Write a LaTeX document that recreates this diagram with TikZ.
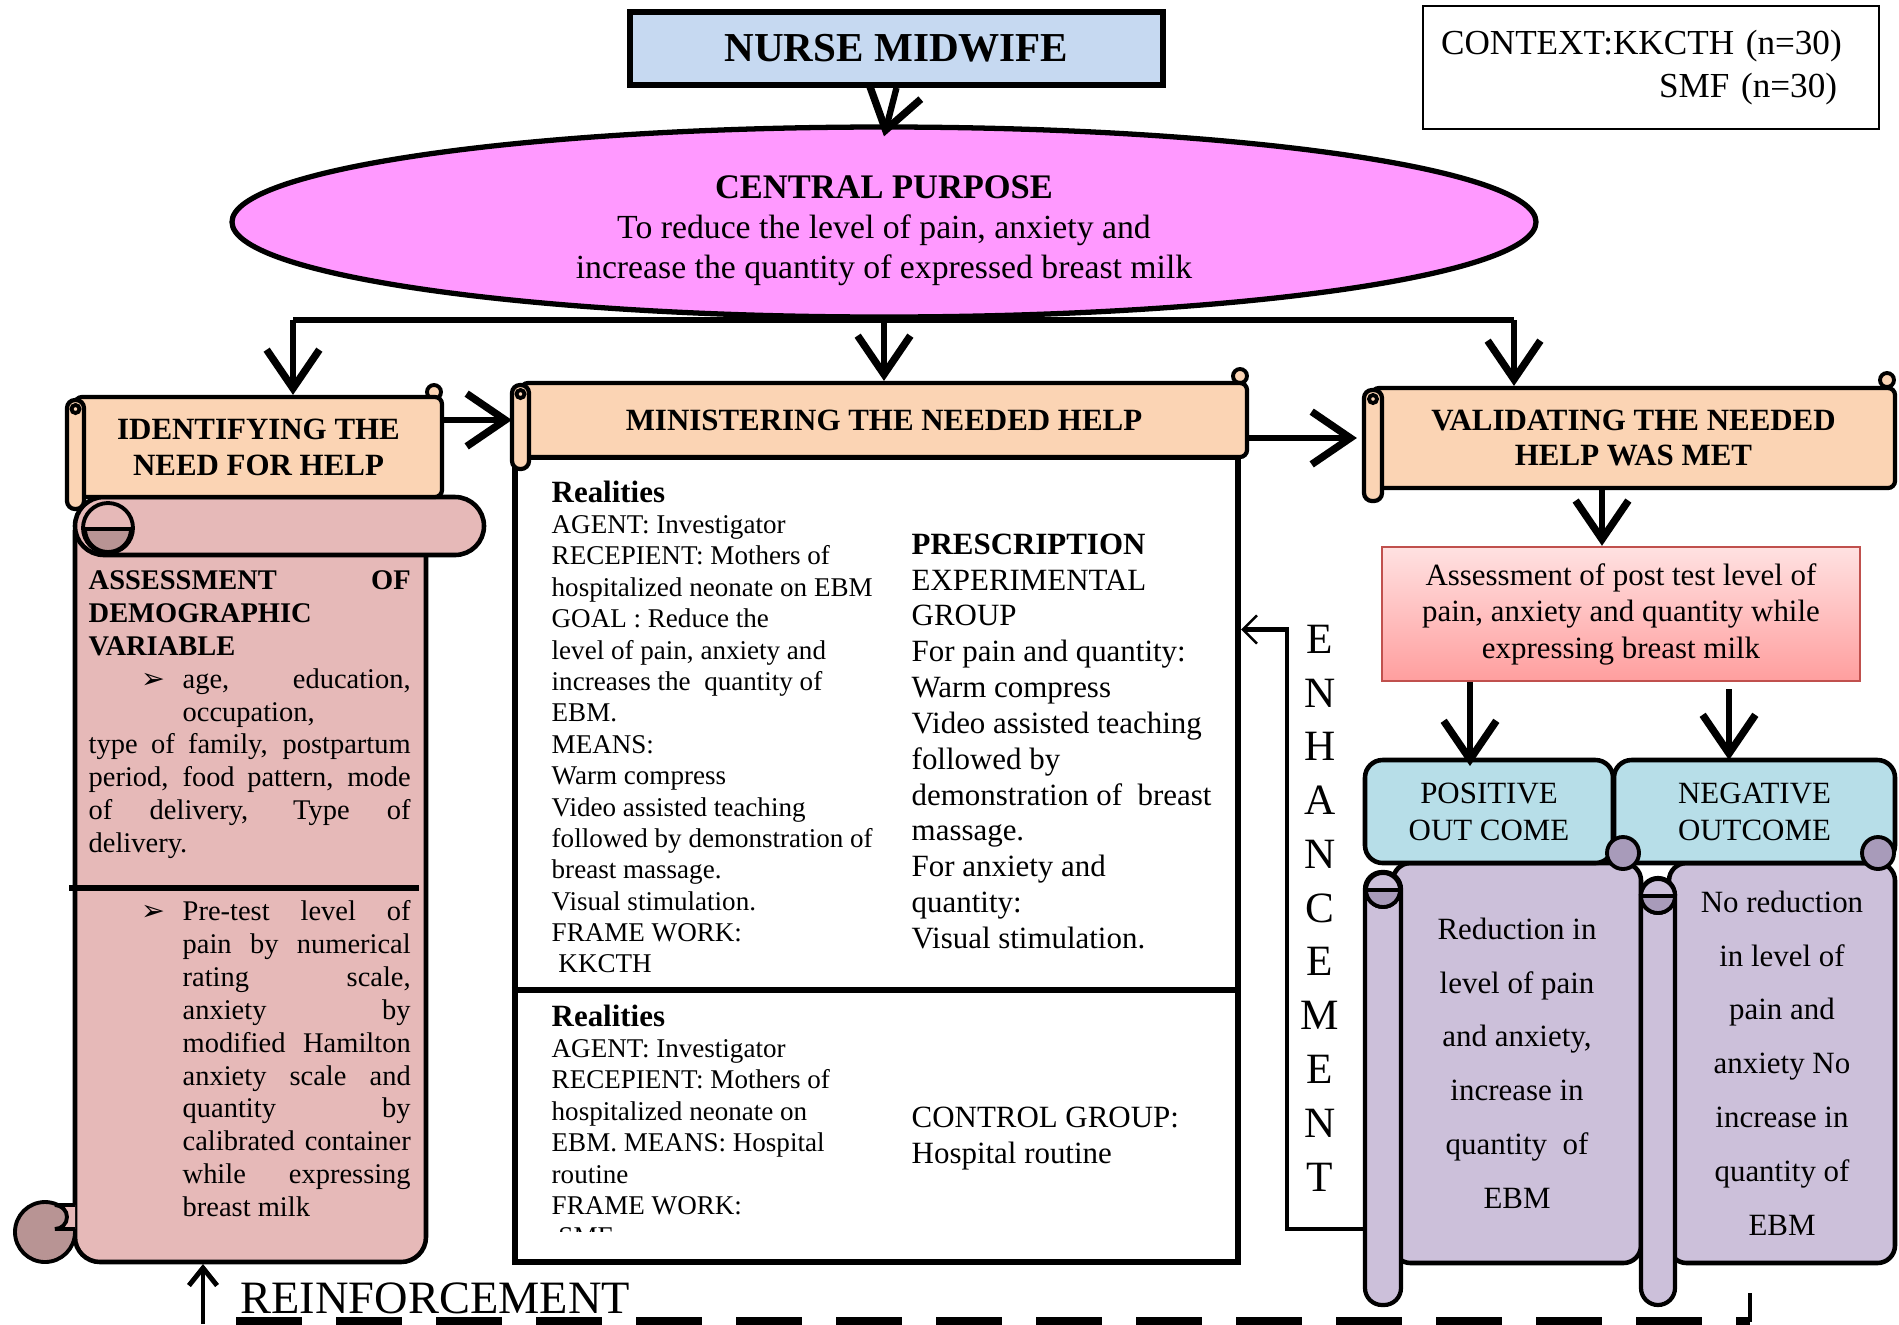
\documentclass[tikz,border=0pt]{standalone}
\usepackage{fontspec}
\setmainfont{Liberation Serif}
\newfontfamily\arrowfont{DejaVu Sans}
\usetikzlibrary{arrows.meta,positioning,shapes.geometric}
\setlength{\parindent}{0pt}

\definecolor{nurseblue}{HTML}{C6D9F1}
\definecolor{purposepink}{HTML}{FF99FF}
\definecolor{headpeach}{HTML}{FBD4B4}
\definecolor{needpink}{HTML}{E6B9B8}
\definecolor{needdark}{HTML}{B89494}
\definecolor{postred}{HTML}{C0504D}
\definecolor{posttop}{HTML}{FFE1E1}
\definecolor{postbottom}{HTML}{FF9E9E}
\definecolor{outblue}{HTML}{B7DEE8}
\definecolor{outpurple}{HTML}{CCC0DA}
\definecolor{outdark}{HTML}{A89BBA}

\begin{document}
\begin{tikzpicture}[
    head/.style={draw, line width=1.2pt, fill=headpeach, rounded corners=2pt, align=center, inner sep=0pt, font=\fontsize{8.8}{10.2}\selectfont\bfseries},
    roll/.style={draw, line width=1.2pt, rounded corners=0.08cm},
    curl/.style={draw, line width=1.1pt},
    arrow/.style={-{Straight Barb[length=11pt,width=15pt,line width=2.1pt]}, line width=1.8pt},
    needtext/.style={anchor=north west, inner sep=0pt, text width=3.22cm, align=justify, font=\fontsize{8.1}{9.35}\selectfont},
    helptext/.style={anchor=north west, inner sep=0pt, align=left, font=\fontsize{7.7}{8.93}\selectfont},
    presctext/.style={anchor=north west, inner sep=0pt, align=left, font=\fontsize{8.8}{10.2}\selectfont},
    outbox/.style={draw, line width=1.3pt, fill=outblue, rounded corners=5pt, align=center, inner sep=0pt, minimum height=1.03cm, font=\fontsize{8.8}{10.5}\selectfont},
    outbody/.style={draw, line width=1.3pt, fill=outpurple, rounded corners=5pt, align=center, inner sep=0pt, minimum height=4.0cm, font=\fontsize{8.8}{15.3}\selectfont}
]
\useasboundingbox (0,0) rectangle (18.99,-13.24);

% top
\node[draw, line width=1.6pt, fill=nurseblue, minimum width=5.33cm, minimum height=0.73cm, font=\fontsize{11.7}{13}\selectfont\bfseries] (nurse) at (8.965,-0.485) {NURSE MIDWIFE};
\node[draw, line width=0.6pt, anchor=north west, minimum width=4.56cm, minimum height=1.23cm, text width=4.2cm, inner xsep=0.18cm, align=left, font=\fontsize{10}{12}\selectfont] (context) at (14.22,-0.05) {CONTEXT:KKCTH (n=30)\\\hspace*{2.18cm}SMF (n=30)};
\node[ellipse, draw, line width=1.5pt, fill=purposepink, minimum width=13.04cm, minimum height=1.9cm, inner sep=0pt, align=center, font=\fontsize{9.6}{11.4}\selectfont] (purpose) at (8.84,-2.22) {\rule{0pt}{11.5pt}{\fontsize{9.8}{11.4}\selectfont\bfseries CENTRAL PURPOSE}\\To reduce the level of pain, anxiety and\\increase the quantity of expressed breast milk};
\draw[arrow] (nurse.south) -- ([yshift=-0.12cm]purpose.north);

% need for help scroll
\draw[line width=1.3pt, fill=needpink, rounded corners=0.25cm] (0.75,-5.3) -- (0.75,-12.62) -- (4.26,-12.62) -- (4.26,-5.3);
\draw[line width=1.3pt, fill=needpink, rounded corners=0.29cm] (0.75,-4.97) rectangle (4.84,-5.55);
\draw[curl, fill=needpink] (1.08,-5.28) circle (0.25);
\draw[curl, fill=needdark] (1.31,-5.29) arc (0:-180:0.23) -- cycle;
\draw[curl, fill=needdark] (0.45,-12.32) circle (0.30);
\draw[curl, fill=needpink] (0.75,-12.05) -- (0.55,-12.05) arc (90:-90:0.12) -- (0.75,-12.29);
\draw[line width=1.6pt] (0.69,-8.88) -- (4.19,-8.88);
\node[needtext] (demog) at (0.88,-5.70) {\textbf{ASSESSMENT OF\linebreak DEMOGRAPHIC\newline VARIABLE}\par
{\leftskip=0.94cm \noindent\llap{{\arrowfont ➢}\hspace{0.17cm}}age, education,\linebreak occupation,\par}
\noindent type of family, postpartum\linebreak period, food pattern, mode\linebreak of delivery, Type of\linebreak delivery.};
\node[needtext] (pretest) at (0.88,-9.00) {\leftskip=0.94cm \noindent\llap{{\arrowfont ➢}\hspace{0.17cm}}Pre-test level of\linebreak pain by numerical\linebreak rating scale,\linebreak anxiety by\linebreak modified Hamilton\linebreak anxiety scale and\linebreak quantity by\linebreak calibrated container\linebreak while expressing\linebreak breast milk\par};

% ministering box
\node[draw, line width=1.8pt, minimum width=7.23cm, minimum height=8.05cm, inner sep=0pt] (helpbox) at (8.765,-8.595) {};
\coordinate (split) at (0,-9.90);
\draw[line width=1.8pt] (helpbox.west |- split) -- (helpbox.east |- split);
\node[helptext] (real1) at (5.51,-4.80) {{\fontsize{8.8}{8.93}\selectfont\bfseries Realities}\\AGENT: Investigator\\RECEPIENT: Mothers of\\hospitalized neonate on EBM\\GOAL : Reduce the\\level of pain, anxiety and\\increases the\ \ quantity of\\EBM.\\MEANS:\\Warm compress\\Video assisted teaching\\followed by demonstration of\\breast massage.\\Visual stimulation.\\FRAME WORK:\\\ KKCTH};
\node[presctext] (presc) at (9.11,-5.33) {\textbf{PRESCRIPTION}\\EXPERIMENTAL\\GROUP\\For pain and quantity:\\Warm compress\\Video assisted teaching\\followed by\\demonstration of\ \ breast\\massage.\\For anxiety and\\quantity:\\Visual stimulation.};
\begin{scope}
\clip (5.2,-9.95) rectangle (12.3,-12.31);
\node[helptext] (real2) at (5.51,-10.04) {{\fontsize{8.8}{8.93}\selectfont\bfseries Realities}\\AGENT: Investigator\\RECEPIENT: Mothers of\\hospitalized neonate on\\EBM. MEANS: Hospital\\routine\\FRAME WORK:\\\ SMF};
\end{scope}
\node[presctext] (control) at (9.11,-11.06) {CONTROL GROUP:\\Hospital routine};

% headers
\draw[curl, fill=headpeach] (4.34,-3.92) circle (0.07);
\draw[curl, fill=headpeach] (12.40,-3.76) circle (0.07);
\draw[curl, fill=headpeach] (18.87,-3.80) circle (0.07);
\node[head, minimum width=3.67cm, minimum height=1.0cm] (ident) at (2.585,-4.47) {IDENTIFYING THE\\NEED FOR HELP};
\node[head, minimum width=7.26cm, minimum height=0.74cm] (minist) at (8.84,-4.20) {MINISTERING THE NEEDED HELP};
\node[head, minimum width=5.23cm, minimum height=1.0cm] (valid) at (16.335,-4.38) {VALIDATING THE NEEDED\\HELP WAS MET};
\draw[roll, fill=headpeach] (0.67,-4.00) rectangle (0.84,-5.09);
\draw[roll, fill=headpeach] (5.12,-3.85) rectangle (5.29,-4.69);
\draw[roll, fill=headpeach] (13.64,-3.90) rectangle (13.82,-5.01);
\draw[curl] (0.755,-4.09) circle (0.04);
\draw[curl] (5.205,-3.94) circle (0.04);
\draw[curl] (13.73,-3.99) circle (0.04);

% branching
\coordinate (barL) at (2.93,-3.20);
\coordinate (barR) at (15.14,-3.20);
\draw[line width=1.8pt] (barL) -- (barR);
\draw[arrow] (barL) -- (barL |- ident.north);
\draw[arrow] (purpose.south |- barL) -- (minist.north);
\draw[arrow] (barR) -- (barR |- valid.north);
\draw[arrow] (ident.east |- minist.west) -- ([xshift=-0.07cm]minist.west);
\draw[arrow] (minist.east |- valid.west) -- ([xshift=-0.13cm]valid.west);

% validating side
\node[draw=postred, line width=0.7pt, top color=posttop, bottom color=postbottom, minimum width=4.78cm, minimum height=1.34cm, align=center, font=\fontsize{8.8}{10.4}\selectfont] (assess) at (16.21,-6.14) {Assessment of post test level of\\pain, anxiety and quantity while\\expressing breast milk};
\draw[arrow] ([xshift=-0.19cm]assess.north |- valid.south) -- ([xshift=-0.19cm]assess.north);
\node[outbody, minimum width=2.48cm] (posbody) at (15.17,-10.63) {Reduction in\\level of pain\\and anxiety,\\increase in\\quantity\ \ of\\EBM};
\node[outbody, minimum width=2.26cm] (negbody) at (17.82,-10.63) {No reduction\\in level of\\pain and\\anxiety No\\increase in\\quantity of\\EBM};
\node[outbox, minimum width=2.48cm] (pos) at (14.89,-8.115) {POSITIVE\\OUT COME};
\node[outbox, minimum width=2.81cm] (neg) at (17.545,-8.115) {NEGATIVE\\OUTCOME};
\coordinate (posin) at (14.70,-7.66);
\coordinate (negin) at (17.29,-7.60);
\draw[arrow] (assess.south -| posin) -- (posin);
\draw[arrow] ([yshift=-0.07cm]assess.south -| negin) -- (negin);
\draw[roll, fill=outpurple, rounded corners=0.17cm] (13.65,-8.72) rectangle (14.01,-13.05);
\draw[roll, fill=outpurple, rounded corners=0.17cm] (16.41,-8.78) rectangle (16.75,-13.05);
\draw[curl, fill=outpurple] (13.83,-8.90) circle (0.17);
\draw[curl, fill=outdark] (14.00,-8.90) arc (0:-180:0.17) -- cycle;
\draw[curl, fill=outpurple] (16.58,-8.96) circle (0.17);
\draw[curl, fill=outdark] (16.75,-8.96) arc (0:-180:0.17) -- cycle;
\draw[curl, fill=outdark] (16.23,-8.53) circle (0.16);
\draw[curl, fill=outdark] (18.78,-8.53) circle (0.16);

% enhancement
\coordinate (enh) at (13.65,-12.29);
\draw[line width=1.4pt, -{Straight Barb[length=4pt,width=8pt,line width=0.7pt]}] (enh) -- (12.87,-12.29) |- ([yshift=2.3cm]helpbox.east);
\node[align=center, inner sep=0pt, font=\fontsize{12.3}{15.3}\selectfont] (enhtext) at (13.20,-9.08) {E\\N\\H\\A\\N\\C\\E\\M\\E\\N\\T};

% reinforcement
\coordinate (feedL) at (2.36,-13.22);
\coordinate (feedR) at (17.50,-12.93);
\draw[line width=1pt] (feedR) -- (feedR |- feedL);
\draw[line width=2.6pt, dash pattern=on 0.66cm off 0.34cm] (feedL) -- (feedR |- feedL);
\coordinate (reinf) at (2.03,-13.24);
\coordinate (needbase) at (2.03,-12.64);
\draw[-{Straight Barb[length=5pt,width=8pt,line width=1.4pt]}, line width=1.4pt] (reinf) -- (needbase);
\node[anchor=west, inner sep=0pt, font=\fontsize{13.2}{15}\selectfont] (reinftext) at (2.40,-12.98) {REINFORCEMENT};
\end{tikzpicture}
\end{document}
